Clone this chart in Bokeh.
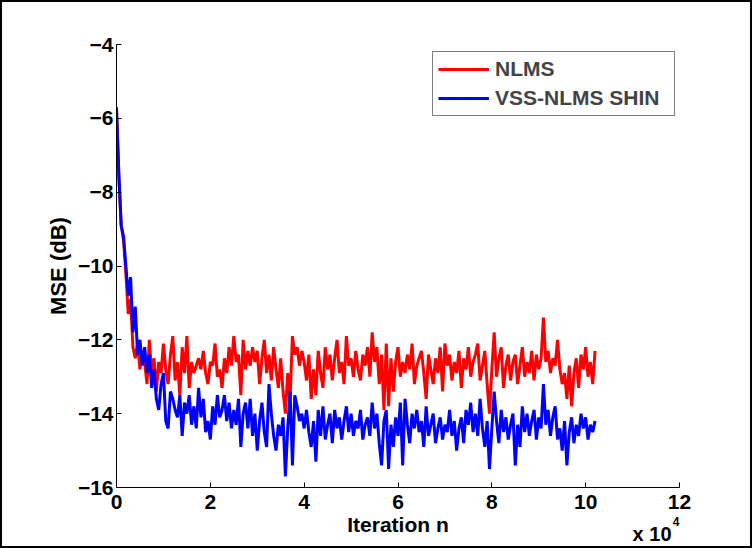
from bokeh.plotting import figure
from bokeh.models import Legend, LegendItem, FixedTicker, Range1d, Title
from bokeh.embed import file_html
from bokeh.resources import INLINE

# iteration index (sampled every 500 iterations)
iterations = [i * 500 for i in range(205)]

# NLMS MSE (dB)
nlms = [
    -5.8, -7.6, -8.9, -9.3, -10.2, -11.3, -10.9, -12.2, -12.5, -12.1,
    -12.8, -12.3, -12.6, -13.2, -12.0, -12.9, -12.5, -13.4, -12.6, -12.9,
    -12.1, -12.8, -13.2, -12.4, -11.9, -13.1, -12.6, -13.5, -12.2, -12.9,
    -11.9, -13.3, -12.6, -12.9, -12.7, -12.5, -12.8, -12.3, -12.9, -13.2,
    -12.6, -12.7, -12.1, -13.0, -12.8, -13.3, -12.5, -12.9, -12.2, -12.7,
    -11.9, -12.6, -12.4, -13.5, -12.0, -12.8, -12.3, -12.7, -12.2, -12.6,
    -12.3, -13.2, -12.5, -12.0, -12.9, -12.4, -13.1, -12.2, -12.8, -13.3,
    -12.5, -13.4, -14.0, -12.9, -13.6, -11.9, -12.4, -12.2, -12.7, -12.3,
    -12.6, -13.1, -12.4, -13.6, -12.8, -13.5, -12.3, -12.9, -13.3, -12.2,
    -12.8, -12.4, -13.1, -12.5, -12.0, -12.9, -12.6, -13.2, -11.9, -12.7,
    -12.5, -13.0, -12.3, -12.8, -13.1, -12.4, -12.7, -12.2, -13.0, -11.8,
    -12.6, -12.2, -13.2, -12.4, -13.9, -12.1, -13.8, -12.5, -13.4, -12.6,
    -12.2, -13.0, -12.6, -12.9, -12.4, -12.8, -12.1, -13.2, -12.7, -12.5,
    -12.3, -12.9, -13.6, -12.4, -12.8, -13.2, -12.5, -12.9, -12.2, -13.4,
    -12.1, -12.7, -12.4, -13.1, -12.6, -12.9, -12.3, -13.3, -12.5, -12.8,
    -12.2, -13.0, -12.6, -12.4, -12.1, -13.1, -12.7, -12.3, -13.2, -14.0,
    -12.8, -11.8, -13.0, -12.5, -12.2, -13.3, -12.7, -12.4, -13.1, -12.6,
    -12.4, -13.2, -12.7, -12.2, -13.0, -12.6, -12.9, -12.3, -13.1, -12.4,
    -12.8, -12.5, -11.4, -12.6, -12.3, -12.9, -12.5, -12.7, -12.0, -12.8,
    -13.2, -12.9, -13.6, -12.7, -13.8, -12.9, -12.5, -13.3, -12.4, -12.8,
    -12.2, -13.0, -12.6, -13.2, -12.3,
]

# VSS-NLMS SHIN MSE (dB)
vss = [
    -5.7, -7.5, -8.9, -9.2, -10.0, -10.8, -10.3, -11.8, -11.1, -12.4,
    -12.0, -12.7, -12.2, -12.9, -12.4, -13.3, -12.8, -13.6, -13.9, -13.2,
    -12.9, -14.2, -14.4, -13.4, -13.6, -13.9, -14.1, -13.5, -14.6, -13.7,
    -14.0, -13.5, -14.3, -13.8, -14.4, -13.3, -14.1, -13.6, -14.5, -14.2,
    -14.7, -13.8, -14.3, -13.5, -14.1, -13.9, -13.5, -14.2, -13.7, -14.4,
    -13.9, -14.3, -13.6, -14.9, -14.0, -13.7, -14.4, -13.6, -14.6, -14.0,
    -15.0, -14.2, -13.7, -14.5, -14.9, -13.2, -14.0, -14.6, -15.0, -14.3,
    -14.6, -14.1, -15.7, -14.4, -13.4, -15.4, -13.5, -13.8, -14.2, -14.0,
    -14.4, -13.9, -14.5, -14.9, -14.2, -15.3, -13.9, -14.6, -13.8, -14.7,
    -14.3, -14.0, -14.8, -13.9, -14.4, -14.1, -14.7, -14.2, -13.8, -14.5,
    -14.0, -14.6, -14.2, -14.4, -13.9, -14.7, -14.3, -14.1, -14.6, -13.7,
    -14.4, -14.0, -14.8, -15.4, -14.2, -13.9, -15.5, -14.3, -14.9, -14.1,
    -14.6, -13.7, -15.4, -13.6, -14.3, -14.8, -14.0, -14.4, -13.9, -14.5,
    -14.2, -14.9, -13.8, -14.6, -14.3, -14.0, -14.8, -14.4, -14.1, -14.7,
    -14.3, -14.5, -13.9, -14.6, -14.2, -15.0, -14.4, -14.1, -14.8, -13.9,
    -14.3, -13.7, -14.5, -14.0, -14.6, -13.6, -14.4, -14.9, -14.2, -15.5,
    -14.4, -13.4, -14.2, -14.8, -13.9, -14.5, -14.1, -14.7, -14.3, -14.0,
    -15.4, -14.3, -14.9, -13.8, -14.5, -14.0, -14.6, -14.2, -13.9, -14.7,
    -14.1, -14.4, -13.2, -14.3, -13.9, -14.6, -14.1, -13.8, -14.7, -14.4,
    -15.0, -14.2, -15.4, -14.5, -14.1, -14.8, -14.3, -14.6, -14.0, -14.4,
    -14.1, -14.7, -14.3, -14.5, -14.2,
]

x_ticks = [0, 2, 4, 6, 8, 10, 12]
y_ticks = [-16, -14, -12, -10, -8, -6, -4]
x_scale = 1e4

FONT = "Liberation Sans"

xs = [v / x_scale for v in iterations]

p = figure(width=752, height=548, output_backend="svg", toolbar_location=None,
           x_range=Range1d(0, 12), y_range=Range1d(-16, -4),
           min_border_left=114, min_border_right=75, min_border_top=42,
           min_border_bottom=63)
p.outline_line_color = None
p.grid.visible = False
p.background_fill_color = "white"
p.border_fill_color = "white"

r1 = p.line(xs, nlms, line_color="#ff0000", line_width=3)
r2 = p.line(xs, vss, line_color="#0000ff", line_width=3)

for ax in (p.xaxis[0], p.yaxis[0]):
    ax.axis_line_color = "black"
    ax.axis_line_width = 1
    ax.major_tick_in = 5
    ax.major_tick_out = 0
    ax.major_tick_line_color = "black"
    ax.minor_tick_line_color = None
    ax.major_label_text_font = FONT
    ax.major_label_text_font_style = "bold"
    ax.major_label_text_font_size = "21px"
    ax.major_label_text_color = "black"
    ax.axis_label_text_font = FONT
    ax.axis_label_text_font_style = "bold"
    ax.axis_label_text_font_size = "21px"
    ax.axis_label_text_color = "black"

p.yaxis.axis_label_text_font_size = "22px"
p.xaxis.ticker = FixedTicker(ticks=x_ticks)
p.yaxis.ticker = FixedTicker(ticks=y_ticks)
p.xaxis.axis_label = "Iteration n"
p.yaxis.axis_label = "MSE (dB)"
p.xaxis.major_label_standoff = 7
p.yaxis.major_label_standoff = 3
p.xaxis.axis_label_standoff = 1
p.yaxis.axis_label_standoff = 4

legend = Legend(items=[LegendItem(label="NLMS", renderers=[r1]),
                       LegendItem(label="VSS-NLMS SHIN", renderers=[r2])],
                location=(316, 371))
legend.border_line_color = "black"
legend.border_line_width = 1
legend.background_fill_color = "white"
legend.background_fill_alpha = 1
legend.label_text_font = FONT
legend.label_text_font_style = "bold"
legend.label_text_font_size = "21px"
legend.glyph_width = 51
legend.glyph_height = 24
legend.label_height = 24
legend.label_width = 174
legend.label_standoff = 6
legend.spacing = 5
legend.padding = 5
legend.margin = 0
p.add_layout(legend)

# axis multiplier "x 10^4" below the x axis, bottom right
mult = Title(text="x 10", align="right", offset=8, standoff=-31,
             vertical_align="top", text_font=FONT, text_font_style="bold",
             text_font_size="20px", text_color="black")
expo = Title(text="4", align="right", offset=0, standoff=-44,
             vertical_align="top", text_font=FONT, text_font_style="bold",
             text_font_size="12px", text_color="black")
p.add_layout(mult, "below")
p.add_layout(expo, "below")

p.styles = {"border": "2px solid black"}

open("out.html", "w").write(file_html(p, INLINE))
